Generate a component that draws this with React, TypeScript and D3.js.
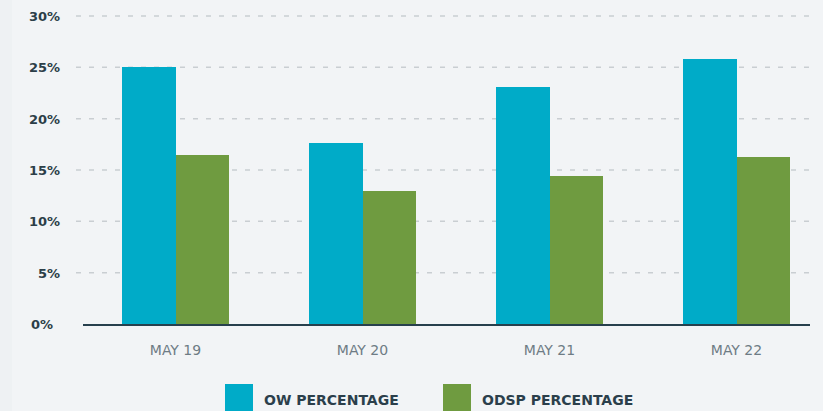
import React, { useEffect, useRef } from 'react';
import * as d3 from 'd3';

const categories = ['MAY 19', 'MAY 20', 'MAY 21', 'MAY 22'];
const owValues = [25.0, 17.6, 23.1, 25.8];
const odspValues = [16.5, 13.0, 14.4, 16.3];
const yTicks = [0, 5, 10, 15, 20, 25, 30];
const seriesNames = ['OW PERCENTAGE', 'ODSP PERCENTAGE'];

const width = 823;
const height = 411;
const colors = ['#00abc8', '#6f9b40'];

const App = () => {
  const ref = useRef<SVGSVGElement>(null);

  useEffect(() => {
    const svg = d3.select(ref.current);
    svg.selectAll('*').remove();

    // background
    svg.append('rect')
      .attr('width', width)
      .attr('height', height)
      .attr('fill', '#f2f4f6');
    svg.append('rect')
      .attr('width', 12)
      .attr('height', height)
      .attr('fill', '#eef1f3');

    const y = d3.scaleLinear().domain([0, 30]).range([324, 16]);
    const x = d3.scaleBand()
      .domain(categories)
      .range([82, 830])
      .paddingInner(0.43)
      .paddingOuter(0.215);
    const xs = d3.scaleBand()
      .domain(seriesNames)
      .range([0, x.bandwidth()]);

    const font = "'DejaVu Sans', sans-serif";

    // grid lines + y labels
    yTicks.forEach(t => {
      if (t > 0) {
        svg.append('line')
          .attr('x1', 76)
          .attr('x2', 812)
          .attr('y1', y(t))
          .attr('y2', y(t))
          .attr('stroke', '#c9ced2')
          .attr('stroke-width', 1.5)
          .attr('stroke-dasharray', '5,8');
      }
      svg.append('text')
        .attr('x', t === 0 ? 53 : 60)
        .attr('y', y(t) + 5)
        .attr('text-anchor', 'end')
        .style('font-family', font)
        .style('font-size', '13px')
        .style('font-weight', 'bold')
        .attr('fill', '#2c3e48')
        .text(`${t}%`);
    });

    // bars
    const series = [owValues, odspValues];
    series.forEach((vals, si) => {
      svg.selectAll(null)
        .data(vals)
        .enter()
        .append('rect')
        .attr('x', (d, i) => x(categories[i])! + xs(seriesNames[si])!)
        .attr('y', d => y(d))
        .attr('width', xs.bandwidth())
        .attr('height', d => y(0) - y(d))
        .attr('shape-rendering', 'crispEdges')
        .attr('fill', colors[si]);
    });

    // baseline
    svg.append('line')
      .attr('x1', 83)
      .attr('x2', 810)
      .attr('y1', y(0) + 1)
      .attr('y2', y(0) + 1)
      .attr('stroke', '#27404d')
      .attr('stroke-width', 2);

    // x labels
    categories.forEach(c => {
      svg.append('text')
        .attr('x', x(c)! + x.bandwidth() / 2)
        .attr('y', 355)
        .attr('text-anchor', 'middle')
        .style('font-family', font)
        .style('font-size', '14px')
        .attr('fill', '#6e7c85')
        .text(c);
    });

    // legend
    const legendX = [225, 443];
    seriesNames.forEach((name, i) => {
      svg.append('rect')
        .attr('x', legendX[i])
        .attr('y', 384)
        .attr('width', 28)
        .attr('height', 30)
        .attr('fill', colors[i]);
      svg.append('text')
        .attr('x', legendX[i] + 39)
        .attr('y', 405)
        .style('font-family', font)
        .style('font-size', '14px')
        .style('font-weight', 'bold')
        .attr('fill', '#2b3f4b')
        .text(name);
    });
  }, []);

  return (
    <svg
      ref={ref}
      width={width}
      height={height}
      style={{ position: 'absolute', left: 0, top: 0, display: 'block' }}
    />
  );
};

export default App;
